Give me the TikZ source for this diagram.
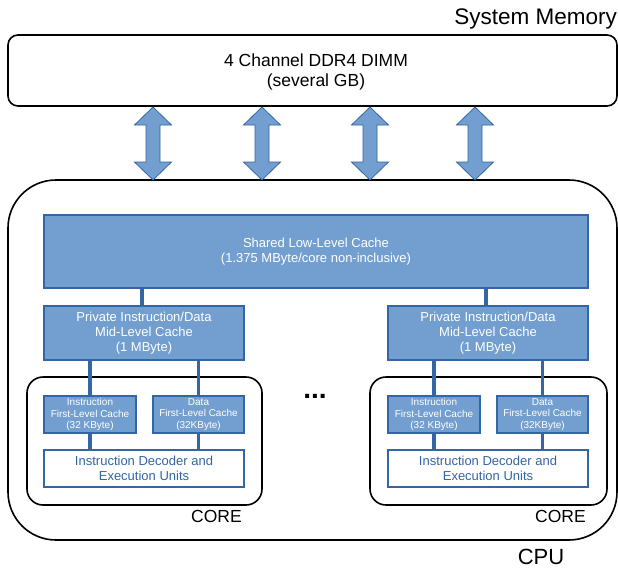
\documentclass[tikz,border=0pt]{standalone}
\usepackage{fontspec}
\setmainfont{Liberation Sans}
\begin{document}
\begin{tikzpicture}[x=1pt,y=-1pt,
  outer/.style={draw=black,line width=1.6pt,rounded corners=#1,inner sep=0pt},
  cache/.style={draw=cacheedge,fill=cachefill,line width=1.2pt,inner sep=0pt,
    text=white,align=center},
  unit/.style={draw=cacheedge,fill=white,line width=1.2pt,inner sep=0pt,
    text=cacheedge,align=center,font=\fontsize{13}{15}\selectfont},
  link/.style={draw=cacheedge,line width=3.6pt},
  busarrow/.style={draw=cacheedge,fill=cachefill,line width=0.8pt,line join=miter},
  lbl/.style={inner sep=0pt,text=black}]
\definecolor{cachefill}{HTML}{729FCF}
\definecolor{cacheedge}{HTML}{3465A4}
\useasboundingbox (0,0) rectangle (618,568);

% memory and CPU outlines
\node[outer=10pt,minimum width=609pt,minimum height=71pt] (mem) at (312.5,70.5) {};
\node[lbl,align=center,font=\fontsize{17.5}{20}\selectfont] (memtxt) at (316,71.5)
  {4 Channel DDR4 DIMM\\(several GB)};
\node[lbl,anchor=east,font=\fontsize{22.5}{26}\selectfont] (memlbl) at (617,19) {System Memory};
\node[outer=48pt,minimum width=609pt,minimum height=360pt] (cpu) at (312.5,360) {};
\node[lbl,font=\fontsize{22}{26}\selectfont] (cpulbl) at (541,557) {CPU};

% memory channels: double-headed block arrows
\foreach \cx [count=\i] in {153,262,370,475}{
  \coordinate (bt\i) at (\cx,107);
  \coordinate (bb\i) at (\cx,180);
  \path[busarrow] (bt\i) -- (\cx+18.5,125) -- (\cx+7,125) -- (\cx+7,162)
    -- (\cx+18.5,162) -- (bb\i) -- (\cx-18.5,162) -- (\cx-7,162)
    -- (\cx-7,125) -- (\cx-18.5,125) -- cycle;
}

% shared last-level cache
\node[cache,minimum width=544pt,minimum height=73pt,font=\fontsize{13}{15}\selectfont]
  (llc) at (316,251.5) {Shared Low-Level Cache\\(1.375 MByte/core non-inclusive)};

% two cores
\foreach \side/\cx/\cw in {L/144/235,R/488/237}{
  \node[outer=16pt,minimum width=\cw pt,minimum height=128pt] (core\side) at (\cx+0.5,441) {};
  \node[cache,minimum width=200pt,minimum height=54pt,font=\fontsize{13}{15}\selectfont]
    (mlc\side) at (\cx,333) {Private Instruction/Data\\Mid-Level Cache\\(1 MByte)};
  \node[cache,minimum width=92pt,minimum height=37pt,font=\fontsize{10}{11.5}\selectfont]
    (li\side) at (\cx-54,414.5) {Instruction\\First-Level Cache\\(32 KByte)};
  \node[cache,minimum width=91pt,minimum height=37pt,font=\fontsize{10}{11.5}\selectfont]
    (ld\side) at (\cx+54.5,414.5) {Data\\First-Level Cache\\(32KByte)};
  \node[unit,minimum width=200pt,minimum height=37pt] (exe\side) at (\cx,468.5)
    {Instruction Decoder and\\Execution Units};
  \node[lbl,font=\fontsize{17.5}{20}\selectfont] (corelbl\side) at (\cx+72.5,516) {CORE};
  \draw[link] ([xshift=-2pt]llc.south -| mlc\side) -- ([xshift=-2pt]mlc\side.north);
  \draw[link] (mlc\side.south -| li\side) -- (li\side.north);
  \draw[link] (mlc\side.south -| ld\side) -- (ld\side.north);
  \draw[link] (li\side.south) -- (exe\side.north -| li\side);
  \draw[link] (ld\side.south) -- (exe\side.north -| ld\side);
}
\node[lbl,font=\fontsize{28}{30}\bfseries] (dots) at (315,396) {...};
\end{tikzpicture}
\end{document}
